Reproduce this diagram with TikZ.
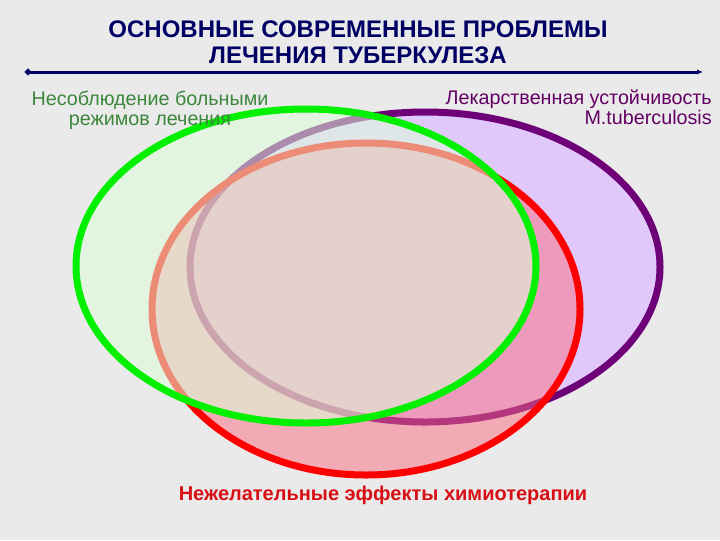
\documentclass[tikz,border=0pt]{standalone}
\usepackage{fontspec}
\setmainfont{Liberation Sans}
\usetikzlibrary{arrows.meta}

\definecolor{bgGray}{RGB}{234,234,234}
\definecolor{titleBlue}{RGB}{0,0,100}
\definecolor{lineViolet}{RGB}{110,0,120}
\definecolor{fillViolet}{RGB}{224,200,250}
\definecolor{fillRose}{RGB}{250,110,130}
\definecolor{fillMint}{RGB}{222,255,218}
\definecolor{lineGreen}{RGB}{0,240,0}
\definecolor{labelGreen}{RGB}{60,135,60}
\definecolor{labelViolet}{RGB}{100,0,100}
\definecolor{labelRed}{RGB}{215,15,20}

\tikzset{
  ring/.style={line width=5.25pt},
  caption/.style={inner sep=0.75pt, font=\fontsize{14.8}{15}\selectfont},
}

\begin{document}
\begin{tikzpicture}[x=0.75pt,y=0.75pt,yscale=-1,xscale=1]
	\fill[bgGray] (0,0) rectangle (720,540);
	\useasboundingbox (0,0) rectangle (720,540);
	% title and rule
	\node (title) [align=center, text=titleBlue, inner sep=0.75pt, font=\fontsize{18}{19.5}\selectfont\bfseries] at (358,42) {ОСНОВНЫЕ СОВРЕМЕННЫЕ ПРОБЛЕМЫ\\ЛЕЧЕНИЯ ТУБЕРКУЛЕЗА};
	\coordinate (ruleL) at (25,72);
	\coordinate (ruleR) at (703,72);
	\draw[titleBlue, line width=2.25pt, {Circle[length=4.5pt]}-{Latex[length=4.5pt,width=4pt]}] (ruleL) -- (ruleR);
	% the three sets
	\draw[ring, draw=lineViolet, fill=fillViolet] (425,267) ellipse (235 and 155);
	\draw[ring, draw=red, fill=fillRose, fill opacity=0.5] (366,309) ellipse (214 and 166);
	\draw[ring, draw=lineGreen, fill=fillMint, fill opacity=0.55] (306,266) ellipse (230 and 157);
	% labels
	\node (noncompl) [caption, align=center, text=labelGreen] at (150,110) {Несоблюдение больными\\режимов лечения};
	\node (resist) [caption, align=right, text=labelViolet, anchor=north east] at (713,89) {Лекарственная устойчивость\\M.tuberculosis};
	\node (sideeff) [caption, text=labelRed, font=\fontsize{15}{15}\selectfont\bfseries] at (383,495) {Нежелательные эффекты химиотерапии};
\end{tikzpicture}
\end{document}
